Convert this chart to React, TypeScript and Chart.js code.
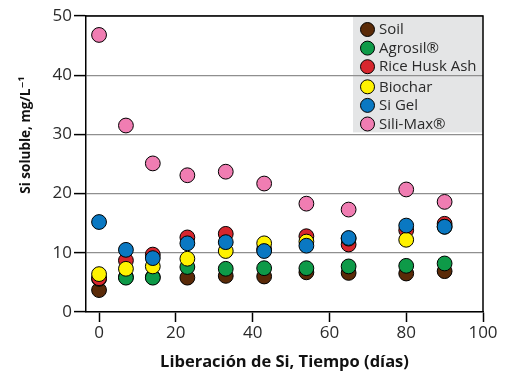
import React, { useEffect, useRef } from "react";
import { Chart, registerables } from "chart.js";

Chart.register(...registerables);

const days = [0, 7, 14, 23, 33, 43, 54, 65, 80, 90];
const soil = [3.7, 5.9, 5.9, 5.8, 6.1, 6.0, 6.7, 6.6, 6.5, 6.9];
const agrosil = [5.6, 5.8, 5.8, 7.6, 7.3, 7.4, 7.4, 7.7, 7.8, 8.2];
const riceHuskAsh = [5.7, 8.7, 9.7, 12.6, 13.2, 10.6, 12.8, 11.4, 13.8, 14.9];
const biochar = [6.4, 7.3, 7.7, 9.0, 10.3, 11.6, 11.9, 12.4, 12.2, 14.4];
const siGel = [15.2, 10.5, 9.1, 11.6, 11.8, 10.3, 11.2, 12.5, 14.6, 14.4];
const siliMax = [46.8, 31.5, 25.1, 23.1, 23.7, 21.7, 18.3, 17.3, 20.7, 18.6];

const seriesNames = ["Soil", "Agrosil®", "Rice Husk Ash", "Biochar", "Si Gel", "Sili-Max®"];
const seriesValues = [soil, agrosil, riceHuskAsh, biochar, siGel, siliMax];
const seriesColors = ["#5a2a08", "#0e9a48", "#d7262e", "#fff200", "#0a78c2", "#f07db2"];

const yTicks = [0, 10, 20, 30, 40, 50];
const xTicks = [0, 20, 40, 60, 80, 100];
const xTitle = "Liberación de Si, Tiempo (días)";
const yTitle = "Si soluble, mg/L⁻¹";

const FONT = "'Open Sans', 'DejaVu Sans', sans-serif";

export default function App() {
  const ref = useRef<HTMLCanvasElement | null>(null);

  useEffect(() => {
    if (!ref.current) return;

    const legendPlugin = {
      id: "boxLegend",
      beforeDraw(chart: any) {
        const { ctx, chartArea } = chart;
        const yS = chart.scales.y;
        const right = chartArea.right;
        const left = right - 130;
        const top = chartArea.top + 1;
        const bottom = yS.getPixelForValue(30) - 2;
        ctx.save();
        ctx.fillStyle = "#e4e5e6";
        ctx.fillRect(left, top, right - left, bottom - top);
        const rowH = 18.6;
        ctx.font = `15px ${FONT}`;
        ctx.textBaseline = "middle";
        ctx.textAlign = "left";
        seriesNames.forEach((name, i) => {
          const cy = top + 12.5 + i * rowH + (i >= 3 ? 1.5 : 0);
          const cx = left + 14.5;
          ctx.beginPath();
          ctx.arc(cx, cy, 7, 0, Math.PI * 2);
          ctx.fillStyle = seriesColors[i];
          ctx.fill();
          ctx.lineWidth = 1;
          ctx.strokeStyle = "#000";
          ctx.stroke();
          ctx.fillStyle = "#2a2a2a";
          ctx.fillText(name, left + 26, cy + 0.5);
        });
        ctx.restore();
      },
      afterDraw(chart: any) {
        const { ctx, chartArea } = chart;
        ctx.save();
        ctx.strokeStyle = "#000";
        ctx.lineWidth = 1.5;
        ctx.beginPath();
        ctx.moveTo(chartArea.left, chartArea.top);
        ctx.lineTo(chartArea.right, chartArea.top);
        ctx.lineTo(chartArea.right, chartArea.bottom);
        ctx.stroke();
        // y-axis title
        ctx.translate(26, 135);
        ctx.rotate(-Math.PI / 2);
        ctx.font = `bold 13.5px ${FONT}`;
        ctx.fillStyle = "#111";
        ctx.textAlign = "center";
        ctx.textBaseline = "middle";
        ctx.fillText(yTitle, 0, 0);
        ctx.restore();
      },
    };

    const chart = new Chart(ref.current, {
      type: "scatter",
      data: {
        datasets: seriesNames.map((name, i) => ({
          label: name,
          data: days.map((d, j) => ({ x: d, y: seriesValues[i][j] })),
          backgroundColor: seriesColors[i],
          borderColor: "#000",
          borderWidth: 1,
          pointRadius: 7.4,
          pointHoverRadius: 7.4,
          order: seriesNames.length - i,
        })),
      },
      options: {
        animation: false,
        responsive: false,
        layout: { padding: { top: 16, right: 23, left: 0, bottom: 0 } },
        plugins: {
          legend: { display: false },
          tooltip: { enabled: false },
        },
        scales: {
          x: {
            type: "linear",
            min: -3.4,
            max: 100,
            afterBuildTicks: (scale: any) => {
              scale.ticks = xTicks.map((v) => ({ value: v }));
            },
            afterFit: (scale: any) => {
              scale.height = 60;
            },
            ticks: {
              color: "#2a2a2a",
              font: { family: FONT, size: 17 },
              padding: 1,
              maxRotation: 0,
            },
            grid: {
              drawOnChartArea: false,
              drawTicks: true,
              tickLength: 10,
              tickColor: "#000",
              tickWidth: 1.5,
            },
            border: { color: "#000", width: 1.5 },
            title: {
              display: true,
              text: xTitle,
              color: "#111",
              font: { family: FONT, size: 16.5, weight: "bold" },
              padding: { top: 0, bottom: 0 },
            },
          },
          y: {
            type: "linear",
            min: 0,
            max: 50,
            afterBuildTicks: (scale: any) => {
              scale.ticks = yTicks.map((v) => ({ value: v }));
            },
            afterFit: (scale: any) => {
              scale.width = 86;
            },
            ticks: {
              color: "#2a2a2a",
              font: { family: FONT, size: 17 },
              padding: 2,
            },
            grid: {
              color: "#8f8f8f",
              lineWidth: 1.2,
              drawTicks: true,
              tickLength: 12,
              tickColor: "#000",
              tickWidth: 1.5,
            },
            border: { color: "#000", width: 1.5 },
            title: { display: false, text: yTitle },
          },
        },
      },
      plugins: [legendPlugin],
    } as any);

    return () => chart.destroy();
  }, []);

  return (
    <div style={{ position: "absolute", left: 0, top: 0, width: 506, height: 372, background: "#fff" }}>
      <canvas ref={ref} width={506} height={372} style={{ display: "block" }} />
    </div>
  );
}
